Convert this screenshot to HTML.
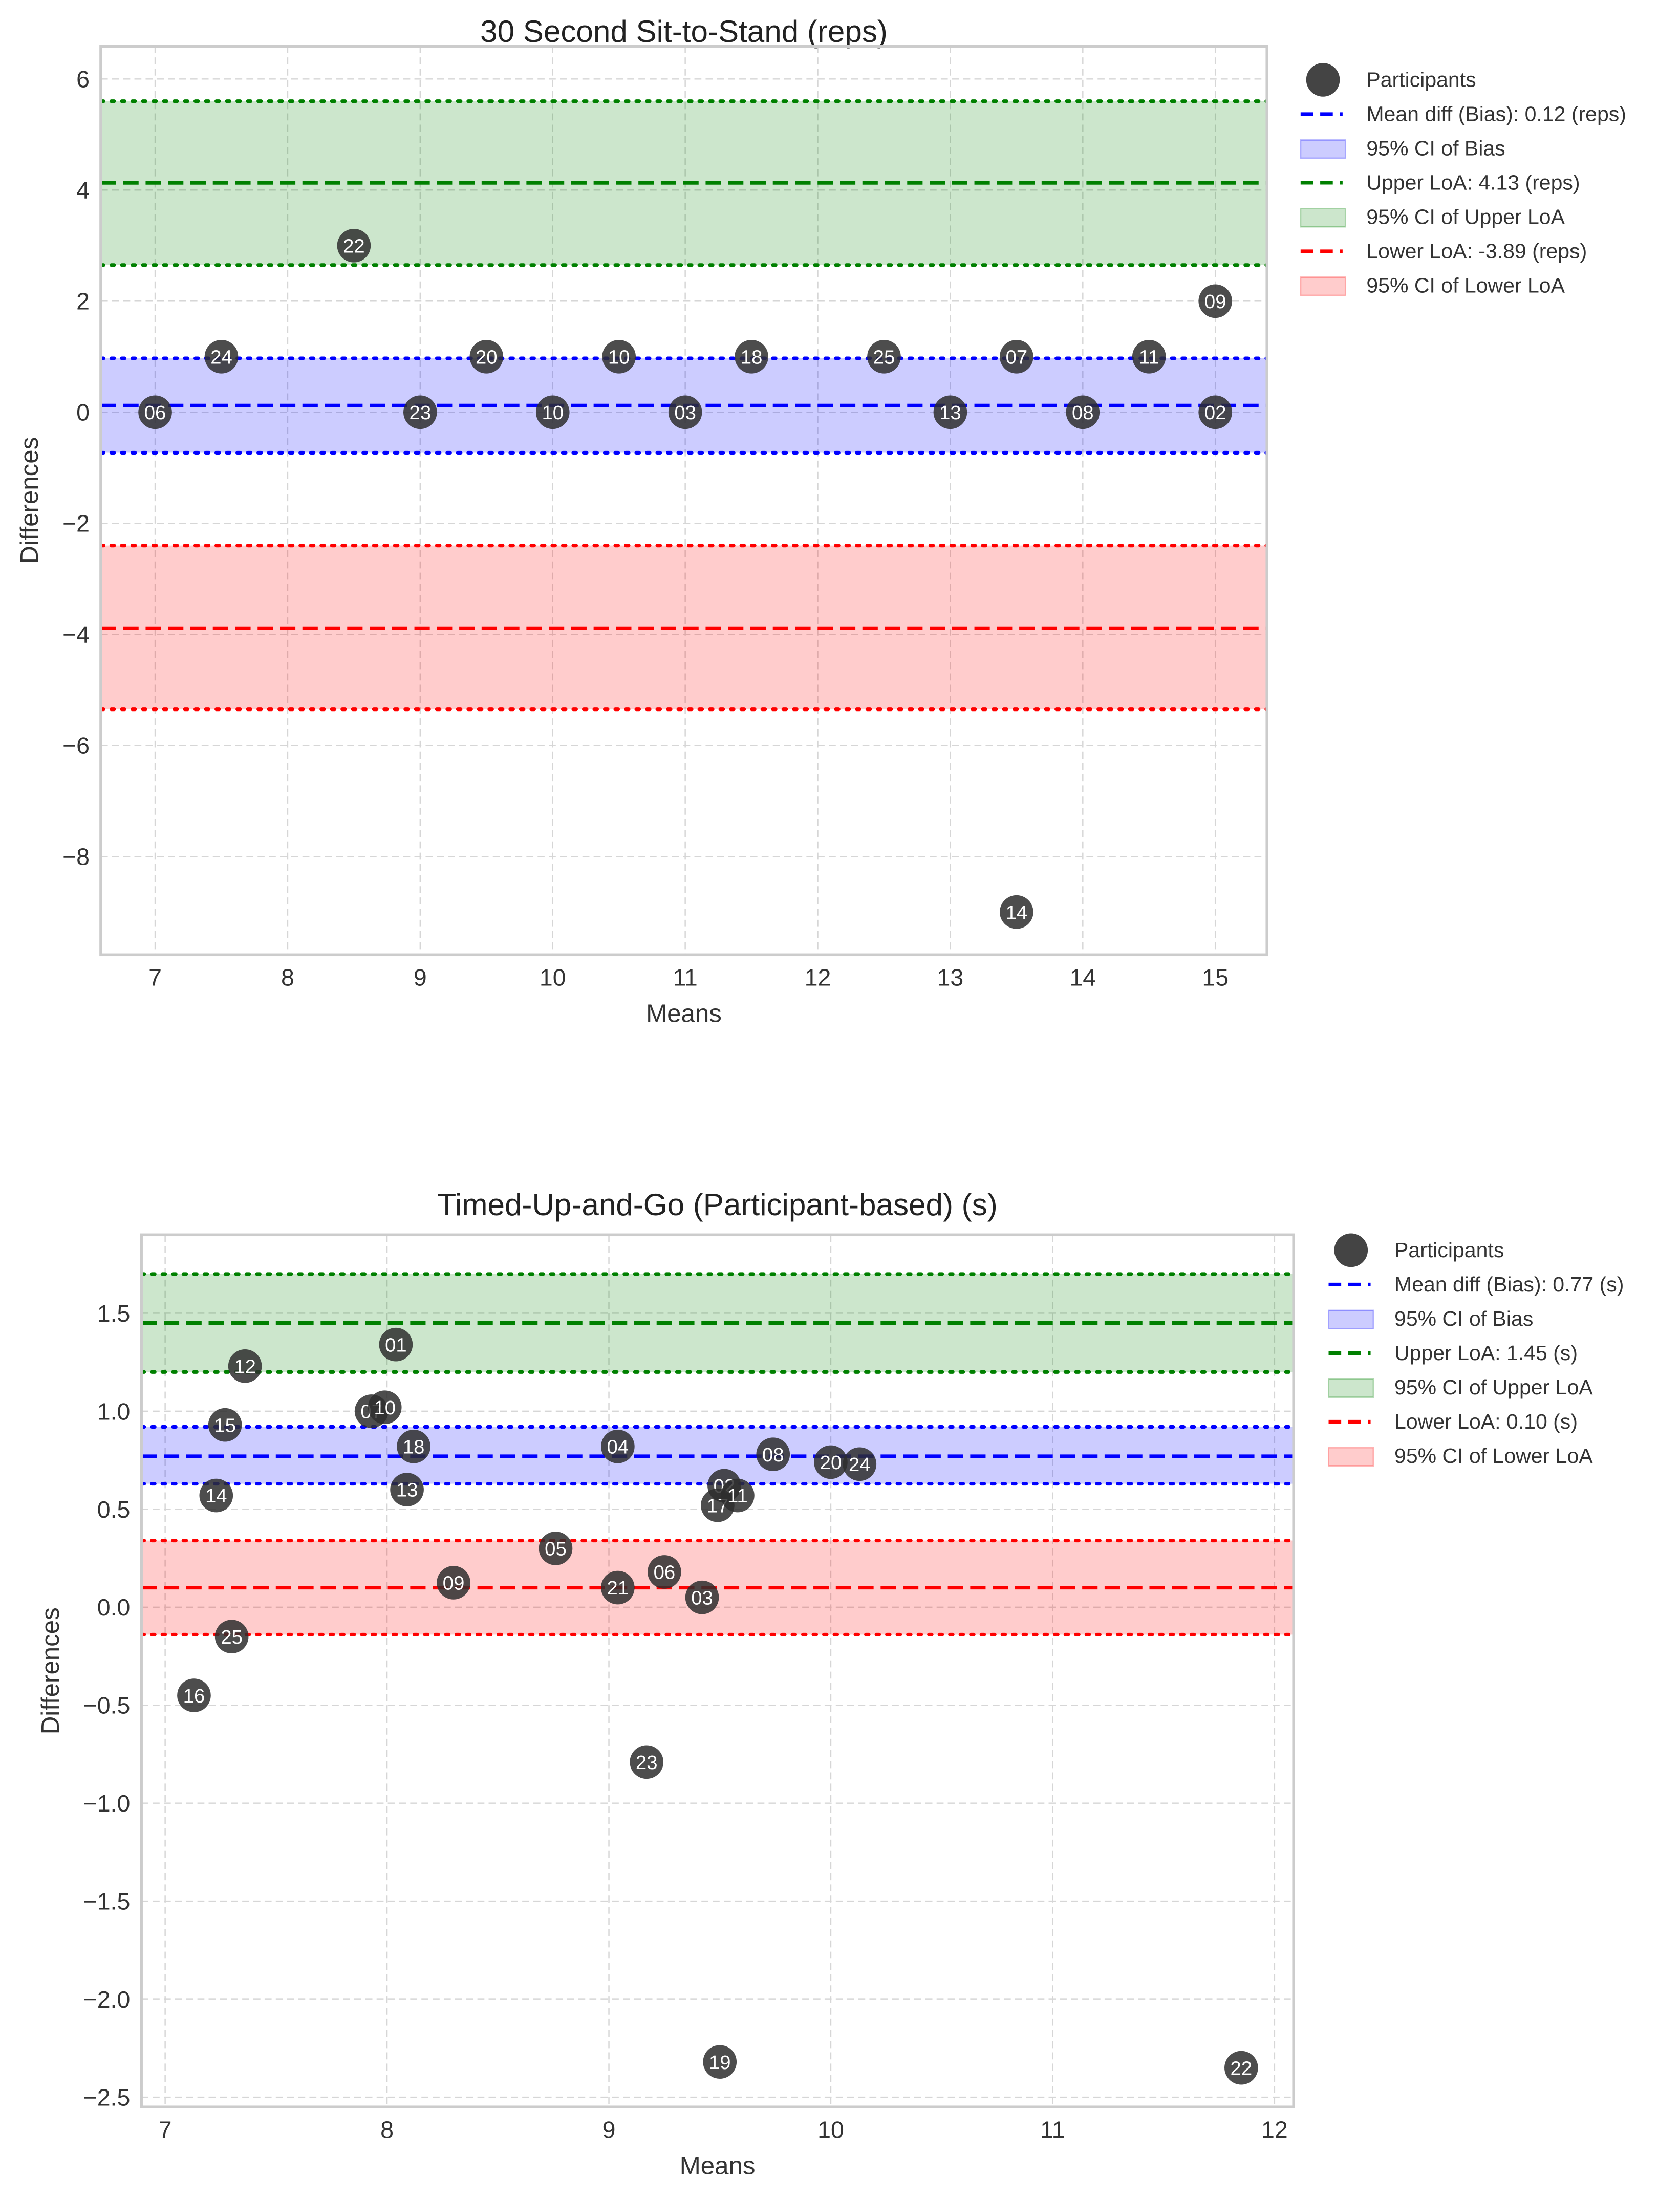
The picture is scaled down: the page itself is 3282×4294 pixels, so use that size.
<!DOCTYPE html>
<html><head><meta charset="utf-8">
<style>
html,body{margin:0;padding:0;background:#fff;}
svg{display:block;}
text{font-family:"Liberation Sans",sans-serif;}
</style></head>
<body>
<svg id="fig" width="3282" height="4294" viewBox="0 0 1200 1570" xmlns="http://www.w3.org/2000/svg"></svg>
<script>
// ---- Chart 1 data: 30 Second Sit-to-Stand ----
const c1Labels = ["06","24","22","23","20","10","10","03","18","25","13","07","14","08","11","09","02"];
const c1Means  = [7, 7.5, 8.5, 9, 9.5, 10, 10.5, 11, 11.5, 12.5, 13, 13.5, 13.5, 14, 14.5, 15, 15];
const c1Diffs  = [0, 1, 3, 0, 1, 0, 1, 0, 1, 1, 0, 1, -9, 0, 1, 2, 0];
const c1Stats  = [0.12, -0.73, 0.97, 4.13, 2.65, 5.6, -3.89, -5.35, -2.4]; // bias, biasLo, biasHi, upper, upLo, upHi, lower, lowLo, lowHi
const c1XTicks = [7, 8, 9, 10, 11, 12, 13, 14, 15];
const c1YTicks = [6, 4, 2, 0, -2, -4, -6, -8];
const c1Legend = ["Participants","Mean diff (Bias): 0.12 (reps)","95% CI of Bias","Upper LoA: 4.13 (reps)","95% CI of Upper LoA","Lower LoA: -3.89 (reps)","95% CI of Lower LoA"];

// ---- Chart 2 data: Timed-Up-and-Go ----
const c2Labels = ["12","01","07","10","15","18","14","13","04","08","20","24","02","17","11","05","09","21","06","03","25","16","23","19","22"];
const c2Means  = [7.36, 8.04, 7.93, 7.99, 7.27, 8.12, 7.23, 8.09, 9.04, 9.74, 10.0, 10.13, 9.52, 9.49, 9.58, 8.76, 8.30, 9.04, 9.25, 9.42, 7.30, 7.13, 9.17, 9.50, 11.85];
const c2Diffs  = [1.23, 1.34, 1.0, 1.02, 0.93, 0.82, 0.57, 0.6, 0.82, 0.78, 0.74, 0.73, 0.62, 0.52, 0.57, 0.30, 0.125, 0.10, 0.18, 0.05, -0.15, -0.45, -0.79, -2.32, -2.35];
const c2Stats  = [0.77, 0.63, 0.92, 1.45, 1.2, 1.7, 0.10, -0.14, 0.34];
const c2XTicks = [7, 8, 9, 10, 11, 12];
const c2YTicks = [1.5, 1.0, 0.5, 0.0, -0.5, -1.0, -1.5, -2.0, -2.5];
const c2Legend = ["Participants","Mean diff (Bias): 0.77 (s)","95% CI of Bias","Upper LoA: 1.45 (s)","95% CI of Upper LoA","Lower LoA: 0.10 (s)","95% CI of Lower LoA"];

const NS = "http://www.w3.org/2000/svg";
const svg = document.getElementById("fig");
function mk(tag, attrs, parent, txt){
  const e = document.createElementNS(NS, tag);
  for (const k in attrs) e.setAttribute(k, attrs[k]);
  if (txt !== undefined) e.textContent = txt;
  (parent||svg).appendChild(e);
  return e;
}

function chart(cfg){
  const g = mk("g", {});
  
  
  const {L,R,T,B,x0,x1,y0,y1} = cfg;
  const sx = v => L + (v - x0) / (x1 - x0) * (R - L);
  const sy = v => T + (y1 - v) / (y1 - y0) * (B - T);
  const clipId = cfg.name + "-clip";
  const cp = mk("clipPath", {id: clipId}, g);
  mk("rect", {x:L, y:T, width:R-L, height:B-T}, cp);

  const t = mk("text", {x:(L+R)/2, y:cfg.titleY, "text-anchor":"middle", "font-size":22, fill:"#222"}, g, cfg.title);
  
  

  const plot = mk("g", {"clip-path":"url(#"+clipId+")"}, g);
  cfg.xt.forEach(v => {
    const l = mk("line", {x1:sx(v), x2:sx(v), y1:T, y2:B, stroke:"#d6d6d6", "stroke-width":0.9, "stroke-dasharray":"5,3"}, plot);
    
    
  });
  cfg.yt.forEach(v => {
    const l = mk("line", {x1:L, x2:R, y1:sy(v), y2:sy(v), stroke:"#d6d6d6", "stroke-width":0.9, "stroke-dasharray":"5,3"}, plot);
    
    
  });
  const s = cfg.stats;
  const bands = [[s[1],s[2],"rgba(0,0,255,0.2)","#0000ff","ci-bias-band"],[s[4],s[5],"rgba(0,128,0,0.2)","#008000","ci-upper-loa-band"],[s[7],s[8],"rgba(255,0,0,0.2)","#ff0000","ci-lower-loa-band"]];
  bands.forEach(b => {
    const r = mk("rect", {x:L, y:sy(b[1]), width:R-L, height:sy(b[0])-sy(b[1]), fill:b[2]}, plot);
    
    
    [b[0], b[1]].forEach(v => {
      const l = mk("line", {x1:L, x2:R, y1:sy(v), y2:sy(v), stroke:b[3], "stroke-width":2.6, "stroke-dasharray":"2,5.5", "stroke-linecap":"round"}, plot);
      
      
    });
  });
  [[s[0],"#0000ff","bias-line"],[s[3],"#008000","upper-loa-line"],[s[6],"#ff0000","lower-loa-line"]].forEach(m => {
    const l = mk("line", {x1:L, x2:R, y1:sy(m[0]), y2:sy(m[0]), stroke:m[1], "stroke-width":2.6, "stroke-dasharray":"11,5"}, plot);
    
    
  });
  cfg.means.forEach((mv, i) => {
    const pg = mk("g", {}, plot);
    
    
    mk("circle", {cx:sx(mv), cy:sy(cfg.diffs[i]), r:12, fill:"#2e2e2e", "fill-opacity":0.85}, pg);
    mk("text", {x:sx(mv), y:sy(cfg.diffs[i])+5, "text-anchor":"middle", "font-size":14, fill:"#fff"}, pg, cfg.labels[i]);
  });
  const fr = mk("rect", {x:L, y:T, width:R-L, height:B-T, fill:"none", stroke:"#cccccc", "stroke-width":2}, g);
  
  
  cfg.xt.forEach(v => {
    const tx = mk("text", {x:sx(v), y:B+22, "text-anchor":"middle", "font-size":17, fill:"#333"}, g, String(v));
    
    
  });
  cfg.yt.forEach(v => {
    const lab = cfg.ydec ? v.toFixed(1).replace("-", "\u2212") : String(v).replace("-", "\u2212");
    const tx = mk("text", {x:L-8, y:sy(v)+6, "text-anchor":"end", "font-size":17, fill:"#333"}, g, lab);
    
    
  });
  const xl = mk("text", {x:(L+R)/2, y:B+48, "text-anchor":"middle", "font-size":18, fill:"#333"}, g, "Means");
  
  
  const yl = mk("text", {x:0, y:0, "text-anchor":"middle", "font-size":18, fill:"#333", transform:"translate("+cfg.ylx+","+((T+B)/2)+") rotate(-90)"}, g, "Differences");
  
  
  const lg = mk("g", {}, g);
  
  
  const colors = [null,"#0000ff","rgba(0,0,255,0.2)","#008000","rgba(0,128,0,0.2)","#ff0000","rgba(255,0,0,0.2)"];
  const edge = [null,null,"rgba(0,0,255,0.3)",null,"rgba(0,128,0,0.3)",null,"rgba(255,0,0,0.3)"];
  cfg.legend.forEach((txt, i) => {
    const y = cfg.legY + i * 24.5;
    const eg = mk("g", {}, lg);
    
    
    const mx = cfg.legX;
    if (i === 0) mk("circle", {cx:mx, cy:y, r:12, fill:"#444"}, eg);
    else if (i % 2 === 1) mk("line", {x1:mx-16, x2:mx+14, y1:y, y2:y, stroke:colors[i], "stroke-width":2.6, "stroke-dasharray":"9,5"}, eg);
    else mk("rect", {x:mx-16, y:y-6, width:32, height:13, fill:colors[i], stroke:edge[i], "stroke-width":1}, eg);
    mk("text", {x:mx+31, y:y+5, "font-size":15, fill:"#333"}, eg, txt);
  });
}

chart({name:"sit-to-stand-chart", title:"30 Second Sit-to-Stand (reps)", L:72, R:905, T:33, B:682, titleY:30,
  x0:6.59, x1:15.39, y0:-9.77, y1:6.59, xt:c1XTicks, yt:c1YTicks, ydec:false,
  labels:c1Labels, means:c1Means, diffs:c1Diffs, stats:c1Stats, legend:c1Legend, legX:945, legY:57, ylx:27});
chart({name:"timed-up-and-go-chart", title:"Timed-Up-and-Go (Participant-based) (s)", L:101, R:924, T:882, B:1505, titleY:868,
  x0:6.893, x1:12.086, y0:-2.55, y1:1.90, xt:c2XTicks, yt:c2YTicks, ydec:true,
  labels:c2Labels, means:c2Means, diffs:c2Diffs, stats:c2Stats, legend:c2Legend, legX:965, legY:893, ylx:42});
</script>
</body></html>
